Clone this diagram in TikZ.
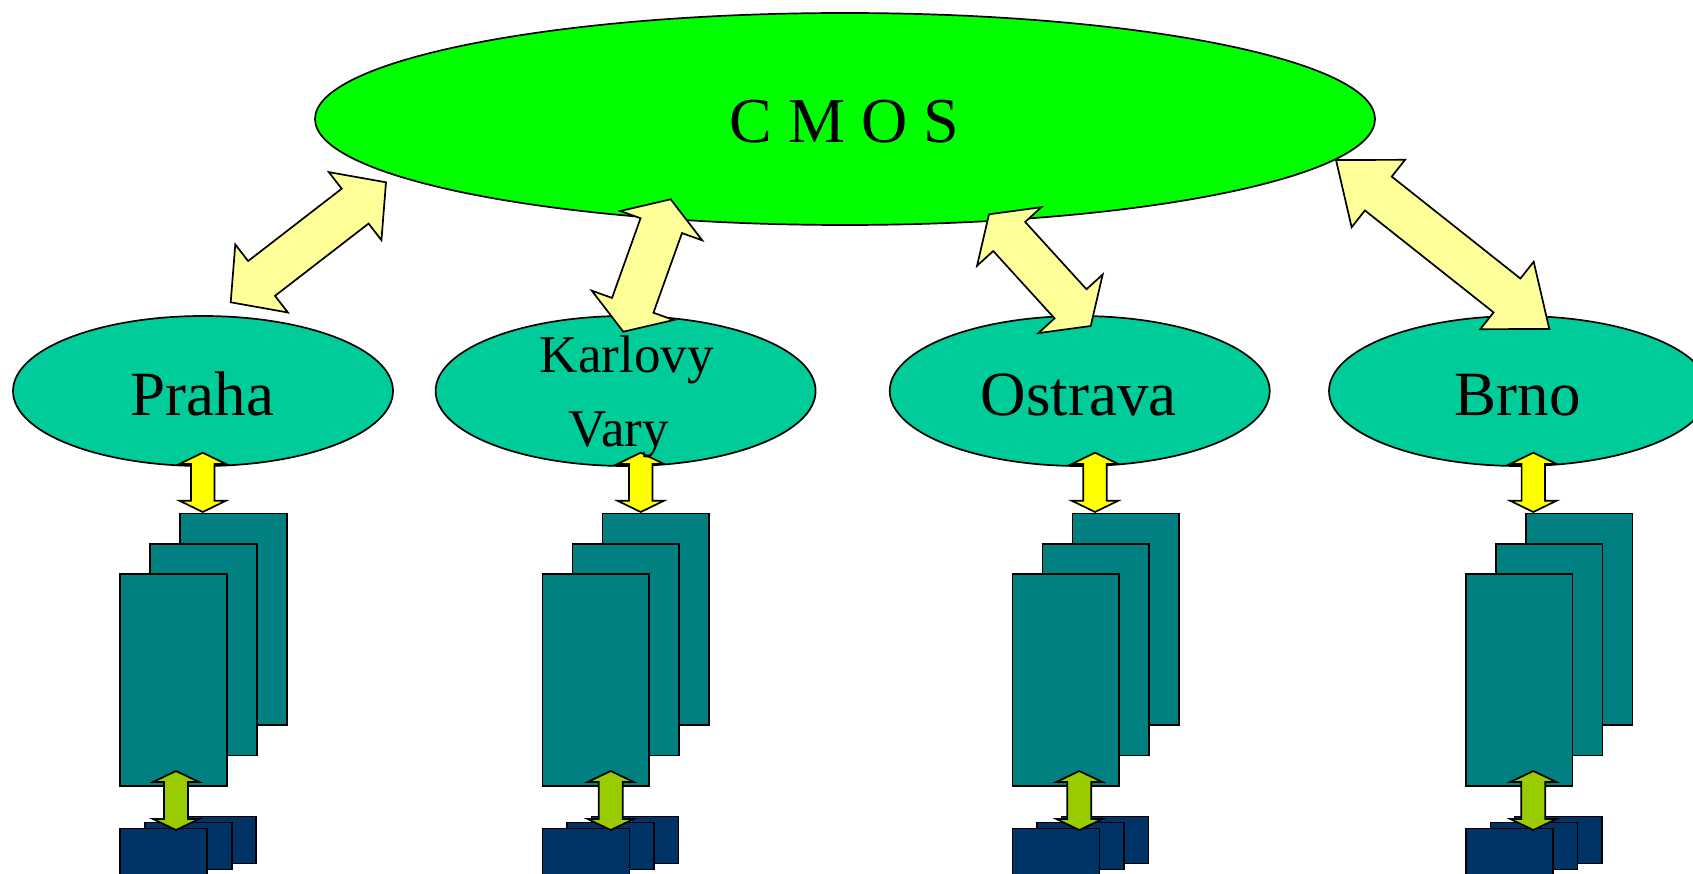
\documentclass[tikz,border=0pt]{standalone}
\usepackage{fontspec}
\setmainfont{Liberation Serif}
\usetikzlibrary{calc,shapes.geometric}
\definecolor{cmosgreen}{HTML}{00FF00}
\definecolor{citycol}{HTML}{00CC99}
\definecolor{bigarrow}{HTML}{FFFF99}
\definecolor{yelarrow}{HTML}{FFFF00}
\definecolor{tealbox}{HTML}{008080}
\definecolor{limearrow}{HTML}{99CC00}
\definecolor{navybox}{HTML}{003366}
% #1 start, #2 end, #3 head length, #4 head half width, #5 shaft half width, #6 fill
\newcommand{\dblarrow}[6]{%
  \draw[outl, fill=#6] (#1)
    -- ($(#1)!#3!(#2)!#4!90:(#2)$)
    -- ($(#1)!#3!(#2)!#5!90:(#2)$)
    -- ($(#2)!#3!(#1)!#5!-90:(#1)$)
    -- ($(#2)!#3!(#1)!#4!-90:(#1)$)
    -- (#2)
    -- ($(#2)!#3!(#1)!#4!90:(#1)$)
    -- ($(#2)!#3!(#1)!#5!90:(#1)$)
    -- ($(#1)!#3!(#2)!#5!-90:(#2)$)
    -- ($(#1)!#3!(#2)!#4!-90:(#2)$)
    -- cycle;}
\begin{document}
\begin{tikzpicture}[x=1pt,y=-1pt,
  outl/.style={draw=black, line width=1.7pt, line join=miter},
  cmosshape/.style={ellipse, outl, fill=cmosgreen, minimum width=1060pt, minimum height=212pt, inner sep=0pt},
  city/.style={ellipse, outl, fill=citycol, minimum width=380pt, minimum height=150pt, inner sep=0pt},
  lbl/.style={inner sep=0pt, anchor=base, text=black, font=\fontsize{63}{70}\selectfont},
  lblsmall/.style={inner sep=0pt, anchor=base, text=black, font=\fontsize{53}{60}\selectfont},
  tealrect/.style={rectangle, outl, fill=tealbox, minimum width=106.5pt, minimum height=211.5pt, inner sep=0pt, anchor=north west},
  navyrect/.style={rectangle, outl, fill=navybox, minimum width=87pt, minimum height=47pt, inner sep=0pt, anchor=north west}]
\useasboundingbox (0,0) rectangle (1693,874);
\clip (0,0) rectangle (1693,874);
% main ellipses
\node[cmosshape] (cmos) at (845,119) {};
\node[city] (praha) at (203,391) {};
\node[city] (kv) at (625.6,391) {};
\node[city] (ostrava) at (1079.7,391) {};
\node[city] (brno) at (1519,391) {};
% columns of boxes
\foreach \n/\L/\Y/\G in {1/119.3/202.7/176, 2/541.7/640.7/610.7, 3/1011.7/1095/1079.3, 4/1465/1533.3/1533.3}{
  \node[tealrect] (tb\n) at (\L+60,512.7) {};
  \node[tealrect] (tm\n) at (\L+30,543) {};
  \node[tealrect] (tf\n) at (\L,573.3) {};
  \node[navyrect] (nb\n) at (\L+49,815.7) {};
  \node[navyrect] (nm\n) at (\L+24.5,821.7) {};
  \node[navyrect] (nf\n) at (\L,827.7) {};
  \coordinate (ya\n) at (\Y,452.7);
  \coordinate (yb\n) at (\Y,512);
  \dblarrow{ya\n}{yb\n}{11.3pt}{23.3pt}{11.7pt}{yelarrow}
  \coordinate (ga\n) at (\G,771);
  \coordinate (gb\n) at (\G,830);
  \dblarrow{ga\n}{gb\n}{11pt}{23pt}{12pt}{limearrow}
}
% big double arrows
\coordinate (a1s) at (230.7,302.3); \coordinate (a1e) at (386,182.3);
\dblarrow{a1s}{a1e}{39pt}{43pt}{22pt}{bigarrow}
\coordinate (a2s) at (623.3,331.7); \coordinate (a2e) at (670.7,199.3);
\dblarrow{a2s}{a2e}{28pt}{43.5pt}{22pt}{bigarrow}
\coordinate (a3s) at (1090.7,326); \coordinate (a3e) at (989,214.3);
\dblarrow{a3s}{a3e}{30pt}{43.5pt}{21.6pt}{bigarrow}
\coordinate (a4s) at (1549.3,329); \coordinate (a4e) at (1336,160);
\dblarrow{a4s}{a4e}{54pt}{43pt}{21.6pt}{bigarrow}
% labels
\node[lbl, font=\fontsize{64}{70}\selectfont] (tcmos) at (844.5,142.7) {C M O S};
\node[lbl] (tpraha) at (202.5,415) {Praha};
\node[lblsmall] (tkarlovy) at (626.7,372.7) {Karlovy};
\node[lblsmall] (tvary) at (619,446.7) {Vary};
\node[lbl] (tostrava) at (1078.6,415) {Ostrava};
\node[lbl] (tbrno) at (1517.7,415) {Brno};
\end{tikzpicture}
\end{document}
